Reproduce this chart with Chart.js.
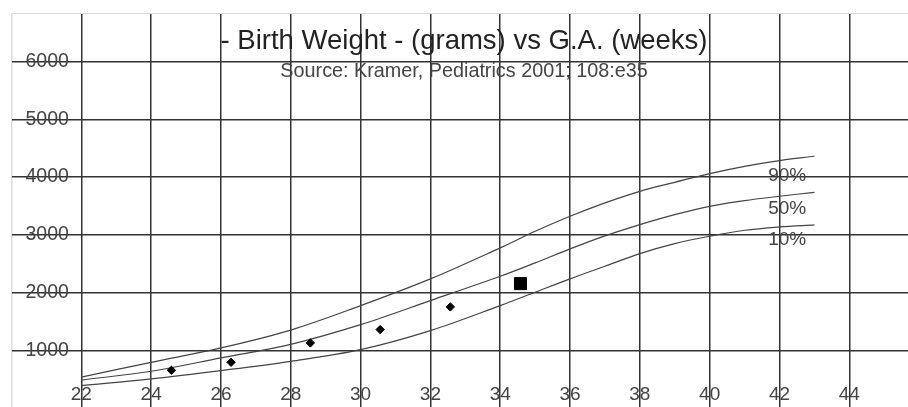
<!DOCTYPE html>
<html><head><meta charset="utf-8">
<style>
html,body{margin:0;padding:0;overflow:hidden;background:#fff;width:908px;height:407px}
canvas{display:block}
</style>
<script src="https://cdn.jsdelivr.net/npm/chart.js@4/dist/chart.umd.min.js"></script>
</head><body>
<canvas id="c" width="928" height="408"></canvas>
<script>
// Percentile curves (Kramer 2001), grams by gestational age (weeks)
const weeks = [22, 24, 26, 28, 30, 32, 34, 35, 36, 37, 38, 39, 40, 41, 42, 43];
const p90 = [535, 791, 1041, 1350, 1773, 2236, 2773, 3060, 3320, 3552, 3753, 3909, 4060, 4186, 4285, 4360];
const p50 = [483, 636, 868, 1103, 1444, 1860, 2281, 2513, 2755, 2980, 3176, 3349, 3493, 3592, 3667, 3736];
const p10 = [388, 504, 648, 809, 1011, 1340, 1773, 2005, 2236, 2455, 2674, 2847, 2974, 3078, 3136, 3171];

// Patient measurements
const babyWeeks = [24.58, 26.29, 28.56, 30.56, 32.57];
const babyWeights = [653, 791, 1127, 1358, 1751];
const latestWeeks = [34.58];
const latestWeights = [2154];

// Curve labels
const curveLabels = ['90%', '50%', '10%'];
const curveLabelWeeks = [42.22, 42.22, 42.22];
const curveLabelWeights = [4025, 3448, 2917];

// Axis ticks (gridlines) and the ones that carry a label
const xTickValues = [20, 22, 24, 26, 28, 30, 32, 34, 36, 38, 40, 42, 44, 46];
const xTickLabels = [22, 24, 26, 28, 30, 32, 34, 36, 38, 40, 42, 44];
const yTickValues = [0, 1000, 2000, 3000, 4000, 5000, 6000];
const yTickLabels = [1000, 2000, 3000, 4000, 5000, 6000];

const X_MIN = 20, X_MAX = 46.254, Y_MIN = 0, Y_MAX = 6841;
const FONT = '"Liberation Sans", Arial, Helvetica, sans-serif';

const pts = (xs, ys) => xs.map((v, i) => ({x: v, y: ys[i]}));

const curveLabelPlugin = {
  id: 'curveLabels',
  beforeDatasetsDraw(chart) {
    const {ctx, chartArea} = chart;
    ctx.save();
    ctx.strokeStyle = '#dddddd';
    ctx.lineWidth = 1;
    ctx.beginPath();
    ctx.moveTo(chartArea.left, Math.round(chartArea.top) + 0.5);
    ctx.lineTo(chartArea.right, Math.round(chartArea.top) + 0.5);
    ctx.stroke();
    ctx.restore();
  },
  afterDatasetsDraw(chart) {
    const {ctx, scales: {x, y}} = chart;
    ctx.save();
    ctx.font = '19px ' + FONT;
    ctx.fillStyle = '#444';
    ctx.textAlign = 'center';
    ctx.textBaseline = 'middle';
    curveLabels.forEach((t, i) => {
      ctx.fillText(t, x.getPixelForValue(curveLabelWeeks[i]), y.getPixelForValue(curveLabelWeights[i]));
    });
    ctx.restore();
  }
};

const curveStyle = {showLine: true, pointRadius: 0, borderColor: '#444', borderWidth: 1.2,
  tension: 0.35, fill: false};

new Chart(document.getElementById('c'), {
  type: 'scatter',
  data: {
    datasets: [
      {label: 'Latest', data: pts(latestWeeks, latestWeights), pointStyle: 'rect',
        pointRadius: 8.5, backgroundColor: '#000', borderColor: '#000', borderWidth: 1},
      {label: 'Weights', data: pts(babyWeeks, babyWeights), pointStyle: 'rectRot',
        pointRadius: 4.2, backgroundColor: '#000', borderColor: '#000', borderWidth: 1},
      Object.assign({label: '90%', data: pts(weeks, p90)}, curveStyle),
      Object.assign({label: '50%', data: pts(weeks, p50)}, curveStyle),
      Object.assign({label: '10%', data: pts(weeks, p10)}, curveStyle)
    ]
  },
  options: {
    responsive: false,
    animation: false,
    devicePixelRatio: 1,
    layout: {autoPadding: false, padding: {top: 13, left: 0, right: 0, bottom: 0}},
    plugins: {
      legend: {display: false},
      tooltip: {enabled: false},
      title: {
        display: true,
        text: '- Birth Weight - (grams) vs G.A. (weeks)',
        color: '#222',
        font: {family: FONT, size: 27.5, weight: 'normal', lineHeight: 1.2},
        padding: {top: 12, bottom: -45}
      },
      subtitle: {
        display: true,
        text: 'Source: Kramer, Pediatrics 2001; 108:e35',
        color: '#444',
        font: {family: FONT, size: 19.8, weight: 'normal', lineHeight: 1.2},
        padding: {top: 47.1, bottom: -70.86}
      }
    },
    scales: {
      x: {
        type: 'linear', min: X_MIN, max: X_MAX,
        border: {display: false},
        grid: {drawTicks: false, lineWidth: 1.5,
          color: c => (c.tick && c.tick.value === X_MIN) ? '#dddddd' : '#333333'},
        ticks: {
          autoSkip: false, maxRotation: 0, mirror: true, padding: 1.4,
          color: '#444', font: {family: FONT, size: 19},
          callback: v => xTickLabels.includes(v) ? String(v) : ''
        },
        afterBuildTicks: s => { s.ticks = xTickValues.map(v => ({value: v})); },
        afterFit: s => { s.height = 0; s.paddingLeft = 0; s.paddingRight = 0; }
      },
      y: {
        type: 'linear', min: Y_MIN, max: Y_MAX,
        border: {display: true, color: '#dddddd', width: 1},
        grid: {drawTicks: false, lineWidth: 1.5, color: '#333333'},
        ticks: {
          autoSkip: false, mirror: true, crossAlign: 'near', padding: 14,
          color: '#444', font: {family: FONT, size: 19.5},
          callback: v => yTickLabels.includes(v) ? String(v) : ''
        },
        afterBuildTicks: s => { s.ticks = yTickValues.map(v => ({value: v})); },
        afterFit: s => { s.width = 11.5; s.paddingTop = 0; s.paddingBottom = 0; }
      }
    }
  },
  plugins: [curveLabelPlugin]
});
</script>
</body></html>
